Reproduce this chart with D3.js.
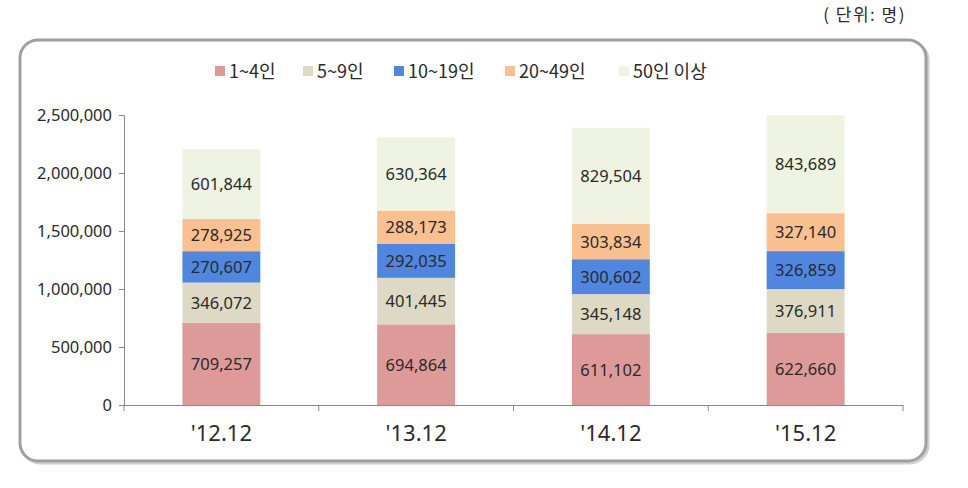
<!DOCTYPE html>
<html><head><meta charset="utf-8">
<script src="https://cdn.jsdelivr.net/npm/d3@7"></script>
<style>body{margin:0;background:#fff;}</style>
</head><body>
<svg id="c" width="968" height="488"></svg>
<script>
const categories = ["'12.12", "'13.12", "'14.12", "'15.12"];
const seriesNames = ["1~4인", "5~9인", "10~19인", "20~49인", "50인 이상"];
const s1 = [709257, 694864, 611102, 622660];
const s2 = [346072, 401445, 345148, 376911];
const s3 = [270607, 292035, 300602, 326859];
const s4 = [278925, 288173, 303834, 327140];
const s5 = [601844, 630364, 829504, 843689];
const yTicks = [0, 500000, 1000000, 1500000, 2000000, 2500000];
const colors = ["#DE9A98", "#DDD9C4", "#4F86E0", "#FAC090", "#EEF3E2"];

const svg = d3.select("#c");
const font = "'Noto Sans CJK KR','Noto Sans',sans-serif";
const numFont = "'Noto Sans',sans-serif";
const txt = "#2a2a2a";

// frame
svg.append("rect").attr("x", 21).attr("y", 41).attr("width", 906).attr("height", 421)
  .attr("rx", 18).attr("fill", "none").attr("stroke", "#d0d0d0").attr("stroke-width", 3)
  .attr("transform", "translate(1,1)");
svg.append("rect").attr("x", 20).attr("y", 40).attr("width", 906).attr("height", 421)
  .attr("rx", 18).attr("fill", "#fff").attr("stroke", "#a0a0a0").attr("stroke-width", 3);

svg.append("text").attr("x", 906).attr("y", 21).attr("text-anchor", "end")
  .attr("font-family", font).attr("font-size", 17).attr("letter-spacing", 1.5).attr("fill", txt).text("( 단위: 명)");

const x = d3.scaleBand().domain(categories).range([124, 903]).paddingInner(0.6).paddingOuter(0.3);
const y = d3.scaleLinear().domain([0, 2500000]).range([405, 115]);

const data = categories.map((c, i) => ({cat: c, v: [s1[i], s2[i], s3[i], s4[i], s5[i]]}));
const keys = [0,1,2,3,4];
const stack = d3.stack().keys(keys).value((d, k) => d.v[k]);
const layers = stack(data);

// y axis
const yAxis = d3.axisLeft(y).tickValues(yTicks).tickSize(5).tickPadding(7).tickFormat(d3.format(","));
const gy = svg.append("g").attr("transform", "translate(124,0)").call(yAxis);
gy.select(".domain").attr("stroke", "#888");
gy.selectAll(".tick line").attr("stroke", "#888");
gy.selectAll("text").attr("font-family", numFont).attr("font-size", 16.5).attr("fill", txt);

layers.forEach((layer, li) => {
  svg.append("g").selectAll("rect").data(layer).join("rect")
    .attr("x", d => x(d.data.cat))
    .attr("width", x.bandwidth())
    .attr("y", d => y(d[1]))
    .attr("height", d => y(d[0]) - y(d[1]))
    .attr("fill", colors[li]);
  svg.append("g").selectAll("text").data(layer).join("text")
    .attr("x", d => x(d.data.cat) + x.bandwidth() / 2)
    .attr("y", d => (y(d[0]) + y(d[1])) / 2 + 6)
    .attr("text-anchor", "middle")
    .attr("font-family", numFont).attr("font-size", 16.5).attr("fill", txt)
    .text(d => d3.format(",")(d[1] - d[0]));
});

// x axis
const step = x.step();
const bounds = [124];
categories.forEach(c => bounds.push(x(c) + x.bandwidth()/2 + step/2));
svg.append("line").attr("x1", 124).attr("x2", 903).attr("y1", 405.5).attr("y2", 405.5).attr("stroke", "#888");
svg.append("g").selectAll("line").data(bounds).join("line")
  .attr("x1", d => d).attr("x2", d => d).attr("y1", 405).attr("y2", 411).attr("stroke", "#888");
svg.append("g").selectAll("text").data(categories).join("text")
  .attr("x", d => x(d) + x.bandwidth()/2).attr("y", 441).attr("text-anchor", "middle")
  .attr("font-family", numFont).attr("font-size", 22).attr("fill", txt).text(d => d);

// legend
const legX = [215, 303, 394, 505, 619];
const lg = svg.append("g");
seriesNames.forEach((n, i) => {
  lg.append("rect").attr("x", legX[i]).attr("y", 66).attr("width", 10).attr("height", 10).attr("fill", colors[i]);
  lg.append("text").attr("x", legX[i] + 14).attr("y", 78).attr("font-family", font)
    .attr("font-size", 18).attr("fill", txt).text(n);
});
</script>
</body></html>
